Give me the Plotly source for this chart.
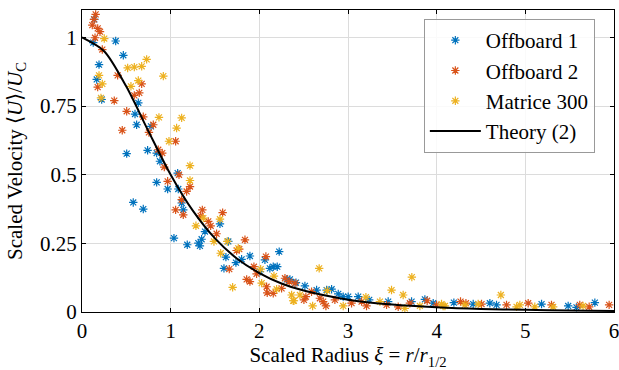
import plotly.graph_objects as go

# ---- data ----
off1_x = [0.139, 0.127, 0.380, 0.466, 0.192, 0.166, 0.222, 0.635, 0.598, 0.616, 0.778, 0.504,
          0.740, 0.842, 0.879, 1.079, 0.842, 0.966, 1.086, 0.578, 0.691, 1.124, 1.142, 1.037,
          1.187, 1.330, 1.312, 1.349, 1.387, 1.556, 1.650, 1.623, 1.736, 1.601, 1.800, 1.894,
          2.063, 2.224, 2.119, 2.157, 2.202, 2.007, 2.308, 2.413, 2.345, 2.514, 2.646, 2.759,
          2.815, 2.890, 2.946, 3.002, 3.115, 3.239, 3.453, 3.717, 3.867, 3.961, 4.194, 4.412,
          4.600, 4.675, 5.183, 5.483, 5.577, 5.784]
off1_y = [1.066, 0.981, 0.987, 0.935, 0.901, 0.847, 0.774, 0.762, 0.721, 0.682, 0.676, 0.577,
          0.589, 0.579, 0.549, 0.506, 0.472, 0.448, 0.448, 0.399, 0.375, 0.397, 0.372, 0.269,
          0.245, 0.241, 0.251, 0.265, 0.293, 0.321, 0.257, 0.200, 0.180, 0.159, 0.192, 0.204,
          0.190, 0.220, 0.159, 0.165, 0.165, 0.147, 0.119, 0.107, 0.119, 0.095, 0.080, 0.080,
          0.083, 0.066, 0.056, 0.056, 0.056, 0.044, 0.038, 0.038, 0.046, 0.032, 0.034, 0.029,
          0.032, 0.026, 0.029, 0.022, 0.017, 0.034]

off2_x = [0.154, 0.135, 0.116, 0.177, 0.203, 0.147, 0.229, 0.402, 0.673, 0.646, 0.590, 0.177,
          0.364, 0.504, 0.691, 0.804, 0.454, 0.755, 1.056, 0.860, 0.905, 0.928, 1.094, 0.966,
          1.180, 1.218, 1.124, 1.357, 1.056, 1.142, 1.338, 1.424, 1.451, 1.586, 1.518, 1.838,
          1.774, 1.744, 2.074, 1.661, 1.939, 1.857, 1.894, 2.082, 2.157, 2.089, 2.289, 2.337,
          2.251, 1.969, 2.401, 2.503, 2.525, 2.720, 2.751, 2.683, 2.852, 3.040, 3.153, 3.209,
          3.435, 3.566, 3.698, 3.893, 3.999, 2.589, 4.269, 4.330, 4.506, 4.788, 5.032, 5.295,
          5.614, 5.720, 5.945]
off2_y = [1.084, 1.066, 1.045, 1.033, 1.021, 0.999, 0.956, 0.862, 0.831, 0.798, 0.789, 0.819,
          0.770, 0.731, 0.711, 0.682, 0.662, 0.654, 0.622, 0.591, 0.579, 0.528, 0.500, 0.476,
          0.439, 0.457, 0.409, 0.372, 0.372, 0.354, 0.350, 0.330, 0.314, 0.362, 0.285, 0.263,
          0.229, 0.224, 0.202, 0.156, 0.165, 0.119, 0.111, 0.092, 0.068, 0.070, 0.123, 0.111,
          0.086, 0.139, 0.105, 0.044, 0.056, 0.038, 0.022, 0.050, 0.044, 0.032, 0.038, 0.022,
          0.026, 0.019, 0.032, 0.041, 0.026, 0.074, 0.038, 0.032, 0.029, 0.026, 0.032, 0.026,
          0.026, 0.019, 0.026]

m300_x = [0.251, 0.729, 0.673, 0.590, 0.515, 0.917, 0.192, 0.229, 0.635, 0.552, 0.214, 0.868,
          1.124, 1.067, 0.981, 1.218, 1.218, 1.285, 1.368, 1.488, 1.556, 1.638, 1.564, 1.762,
          2.015, 1.699, 2.026, 2.195, 2.364, 2.390, 2.165, 2.675, 2.382, 2.601, 2.458, 2.766,
          2.946, 3.202, 3.360, 3.491, 3.622, 3.641, 3.720, 3.811, 4.073, 4.055, 4.093, 4.318,
          4.468, 4.724, 4.901, 4.938, 5.107, 5.314, 5.651]
m300_y = [0.996, 0.920, 0.895, 0.892, 0.889, 0.859, 0.862, 0.831, 0.843, 0.822, 0.780, 0.709,
          0.707, 0.670, 0.622, 0.533, 0.479, 0.314, 0.342, 0.257, 0.338, 0.257, 0.214, 0.232,
          0.156, 0.090, 0.105, 0.083, 0.062, 0.041, 0.131, 0.159, 0.041, 0.022, 0.062, 0.078,
          0.022, 0.054, 0.038, 0.080, 0.062, 0.013, 0.127, 0.022, 0.022, 0.029, 0.022, 0.026,
          0.029, 0.062, 0.019, 0.026, 0.019, 0.019, 0.022]

theory_x = [0.0, 0.25, 0.5, 0.75, 1.0, 1.25, 1.5, 1.75, 2.0, 2.25, 2.5, 3.0, 3.5, 4.0, 4.5, 5.0, 5.5, 6.0]
theory_y = [1.0, 0.950, 0.821, 0.658, 0.500, 0.369, 0.268, 0.194, 0.142, 0.104, 0.078, 0.045,
            0.027, 0.017, 0.011, 0.008, 0.0055, 0.004]

x_ticks = [0, 1, 2, 3, 4, 5, 6]
y_ticks = [0, 0.25, 0.5, 0.75, 1]
y_tick_labels = ["0", "0.25", "0.5", "0.75", "1"]

FONT = "Liberation Serif, Times New Roman, Times, serif"
FS = 21
C1, C2, C3 = "#0072BD", "#D95319", "#EDB120"

fig = go.Figure()
for name, xs, ys, col in [("Offboard 1", off1_x, off1_y, C1),
                          ("Offboard 2", off2_x, off2_y, C2),
                          ("Matrice 300", m300_x, m300_y, C3)]:
    fig.add_trace(go.Scatter(x=xs, y=ys, mode="markers", name=name,
                             marker=dict(symbol="asterisk-open", size=7, color=col,
                                         line=dict(color=col, width=1.2))))
fig.add_trace(go.Scatter(x=theory_x, y=theory_y, mode="lines", name="Theory (2)",
                         line=dict(color="black", width=2, shape="spline", smoothing=0.8)))

axis_common = dict(showline=True, linecolor="black", linewidth=1, mirror="ticks",
                   ticks="inside", ticklen=4, tickcolor="black", automargin=False,
                   ticklabeloverflow="allow",
                   showgrid=True, gridcolor="#dcdcdc", gridwidth=1, zeroline=False,
                   tickfont=dict(family=FONT, size=FS, color="black"))

fig.update_layout(
    width=619, height=370,
    margin=dict(l=82, r=5, t=10, b=58),
    paper_bgcolor="white", plot_bgcolor="white",
    font=dict(family=FONT, size=FS, color="black"),
    showlegend=True,
    legend=dict(x=0.964, y=0.97, xanchor="right", yanchor="top",
                bgcolor="rgba(255,255,255,0.85)", bordercolor="#999999", borderwidth=1,
                font=dict(family=FONT, size=FS, color="black"),
                tracegroupgap=0, itemsizing="trace", itemwidth=51),
    xaxis=dict(range=[0, 6], tickvals=x_ticks,
               title=dict(text="Scaled Radius <i>ξ</i> = <i>r</i>/<i>r</i><sub>1/2</sub>",
                          font=dict(family=FONT, size=FS), standoff=2),
               **axis_common),
    yaxis=dict(range=[0, 1.1], tickvals=y_ticks, ticktext=y_tick_labels,
               **axis_common),
    annotations=[dict(text="Scaled Velocity ⟨<i>U</i>⟩/<i>U</i><sub>C</sub>",
                      xref="paper", yref="paper", x=0, y=0.5, xshift=-66,
                      xanchor="center", yanchor="middle", textangle=-90,
                      showarrow=False, font=dict(family=FONT, size=FS, color="black"))],
)

fig.write_html("out.html", config={"displayModeBar": False},
               post_script="document.body.style.margin='0';document.body.style.padding='0';")
